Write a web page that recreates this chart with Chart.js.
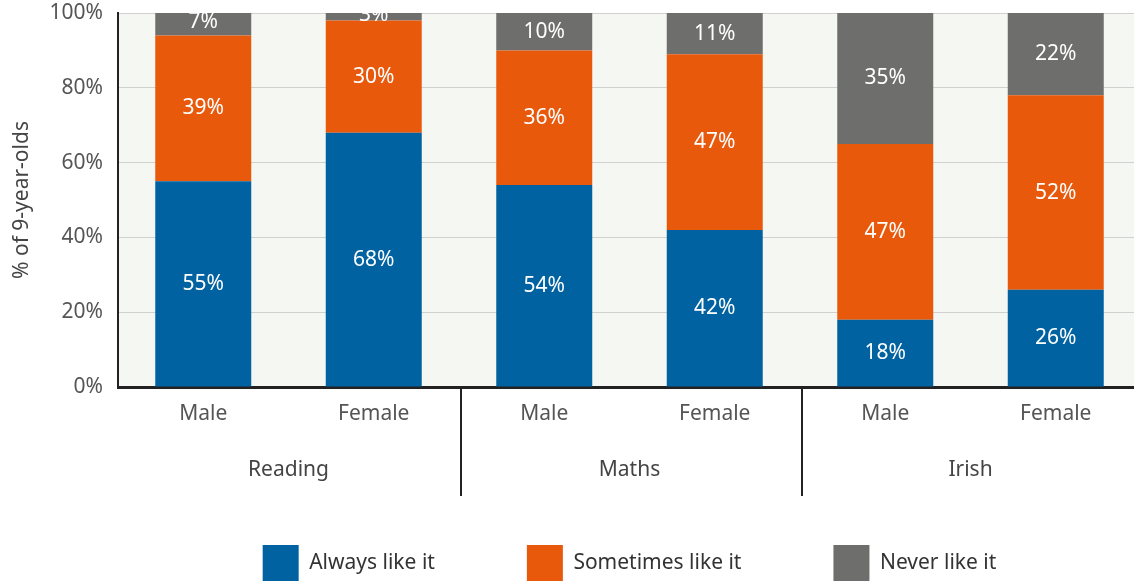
<!DOCTYPE html>
<html>
<head>
<meta charset="utf-8">
<script src="https://cdn.jsdelivr.net/npm/chart.js@4.4.1/dist/chart.umd.min.js"></script>
<style>
	html, body { margin: 0; padding: 0; background: #fff; overflow: hidden; }
	/* the reference looks cropped on the right and bottom, so the canvas runs a little past the window */
	#wrap { width: 1141px; height: 591px; position: relative; }
</style>
</head>
<body>
<div id="wrap"><canvas id="likeChart"></canvas></div>
<script>
const subjects = ["Reading", "Maths", "Irish"];
const genders = ["Male", "Female", "Male", "Female", "Male", "Female"];
const alwaysLike = [55, 68, 54, 42, 18, 26];
const sometimesLike = [39, 30, 36, 47, 47, 52];
const neverLike = [7, 3, 10, 11, 35, 22];
const yTicks = [0, 20, 40, 60, 80, 100];

Chart.defaults.font.family = "'Noto Sans', sans-serif";
Chart.defaults.font.size = 21;

/**
 * Light fill behind the plot area
 */
const plotBackground = {
	id: "plotBackground",
	beforeDraw(chart) {
		const { ctx, chartArea } = chart;
		ctx.save();
		ctx.fillStyle = "#f5f7f2";
		ctx.fillRect(chartArea.left, chartArea.top, chartArea.right - chartArea.left, chartArea.bottom - chartArea.top);
		ctx.restore();
	},
};

/**
 * Percent labels in the middle of each segment
 */
const segmentLabels = {
	id: "segmentLabels",
	afterDatasetsDraw(chart) {
		const { ctx, chartArea } = chart;
		ctx.save();
		ctx.beginPath();
		ctx.rect(chartArea.left, chartArea.top, chartArea.right - chartArea.left, chartArea.bottom - chartArea.top);
		ctx.clip();
		ctx.fillStyle = "#ffffff";
		ctx.font = "21px 'Noto Sans', sans-serif";
		ctx.textAlign = "center";
		ctx.textBaseline = "middle";
		chart.data.datasets.forEach((ds, i) => {
			const meta = chart.getDatasetMeta(i);
			meta.data.forEach((bar, j) => {
				const p = bar.getCenterPoint();
				ctx.fillText(ds.data[j] + "%", p.x, p.y);
			});
		});
		ctx.restore();
	},
};

/**
 * Subject names under the gender labels, with dividers between subjects
 */
const subjectGroups = {
	id: "subjectGroups",
	afterDraw(chart) {
		const { ctx, chartArea } = chart;
		const x = chart.scales.x;
		ctx.save();
		ctx.fillStyle = "#444";
		ctx.font = "21px 'Noto Sans', sans-serif";
		ctx.textAlign = "center";
		ctx.textBaseline = "middle";
		subjects.forEach((name, g) => {
			const mid = (x.getPixelForValue(g * 2) + x.getPixelForValue(g * 2 + 1)) / 2;
			ctx.fillText(name, mid, chartArea.bottom + 83);
			if (g > 0) {
				const sep = (x.getPixelForValue(g * 2 - 1) + x.getPixelForValue(g * 2)) / 2 + 2;
				ctx.strokeStyle = "#222";
				ctx.lineWidth = 2;
				ctx.beginPath();
				ctx.moveTo(sep, chartArea.bottom);
				ctx.lineTo(sep, chartArea.bottom + 109);
				ctx.stroke();
			}
		});
		ctx.restore();
	},
};

const likeData = {
	labels: genders,
	datasets: [
		{ label: "Always like it", data: alwaysLike, backgroundColor: "#0062a0", borderWidth: 0 },
		{ label: "Sometimes like it", data: sometimesLike, backgroundColor: "#e8590c", borderWidth: 0 },
		{ label: "Never like it", data: neverLike, backgroundColor: "#6e6e6c", borderWidth: 0 },
	],
};

const configLike = {
	type: "bar",
	data: likeData,
	options: {
		responsive: true,
		maintainAspectRatio: false,
		animation: false,
		categoryPercentage: 1,
		barPercentage: 0.563,
		layout: { padding: 0 },
		scales: {
			x: {
				stacked: true,
				grid: { display: false, drawTicks: false },
				border: { display: true, color: "#222", width: 3 },
				ticks: { color: "#555", padding: 14 },
				afterFit(scale) {
					scale.height = 66;
				},
			},
			y: {
				stacked: true,
				min: 0,
				max: 100,
				afterBuildTicks(scale) {
					scale.ticks = yTicks.map((v) => ({ value: v }));
				},
				ticks: {
					color: "#555",
					padding: 15,
					callback: (v) => v + "%",
				},
				grid: { color: "#d0d0d0", lineWidth: 1, drawTicks: false },
				border: { display: true, color: "#222", width: 2 },
				title: {
					display: true,
					text: "% of 9-year-olds",
					color: "#444",
					padding: { top: 9, bottom: 0 },
				},
				afterFit(scale) {
					scale.width = 118;
					// keep only half a label of room above the top tick
					scale.paddingTop = 13;
					scale.paddingBottom = 13;
				},
			},
		},
		plugins: {
			legend: {
				position: "bottom",
				fullSize: false,
				labels: {
					boxWidth: 36,
					boxHeight: 36,
					padding: 92,
					color: "#333",
				},
			},
			tooltip: { enabled: false },
		},
	},
	plugins: [plotBackground, segmentLabels, subjectGroups],
};

window.likeChartObj = new Chart(document.getElementById("likeChart"), configLike);
</script>
</body>
</html>
